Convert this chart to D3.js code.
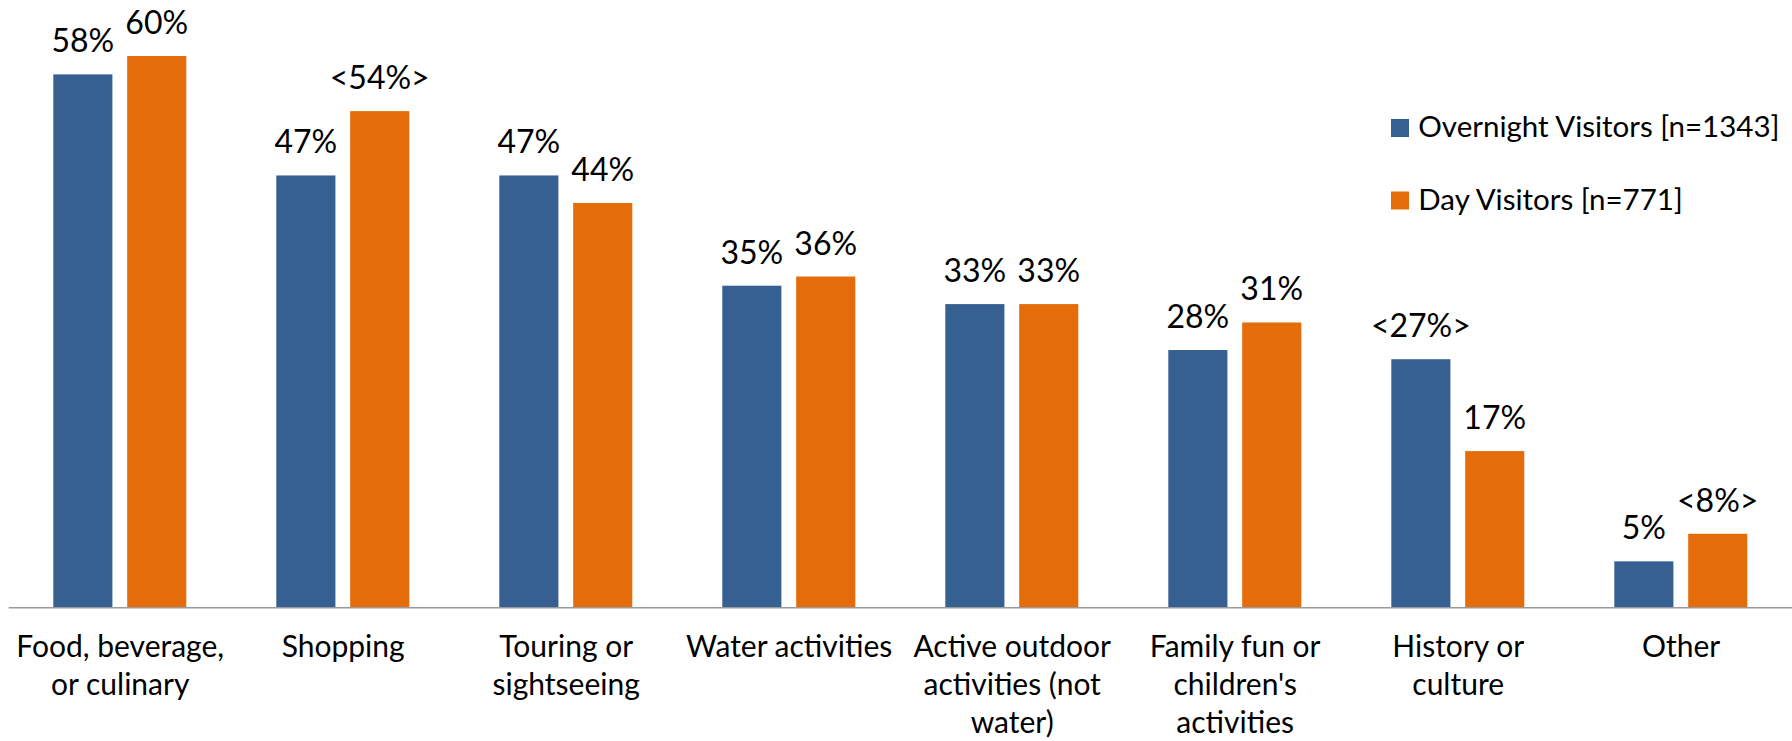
<!DOCTYPE html>
<html>
<head>
<meta charset="utf-8">
<script src="https://cdn.jsdelivr.net/npm/d3@7"></script>
<style>
  html, body { margin: 0; padding: 0; background: #ffffff; }
  svg { display: block; }
  text { font-family: Lato, "Open Sans", sans-serif; fill: #000; }
</style>
</head>
<body>
<svg id="chart" width="1792" height="741"></svg>
<script>
const categories = [
  "Food, beverage,\nor culinary",
  "Shopping",
  "Touring or\nsightseeing",
  "Water activities",
  "Active outdoor\nactivities (not\nwater)",
  "Family fun or\nchildren's\nactivities",
  "History or\nculture",
  "Other"
];
const seriesNames = ["Overnight Visitors [n=1343]", "Day Visitors [n=771]"];
const overnightValues = [0.58, 0.47, 0.47, 0.35, 0.33, 0.28, 0.27, 0.05];
const dayValues       = [0.60, 0.54, 0.44, 0.36, 0.33, 0.31, 0.17, 0.08];
const overnightLabels = ["58%", "47%", "47%", "35%", "33%", "28%", "<27%>", "5%"];
const dayLabels       = ["60%", "<54%>", "44%", "36%", "33%", "31%", "17%", "<8%>"];
const colors = ["#376092", "#E46C0A"];

const svg = d3.select("#chart");
const baseY = 607.3;

const x0 = d3.scaleBand().domain(categories).range([8.7, 1792.7]).padding(0);
const x1 = d3.scaleBand().domain([0, 1]).range([44.6, 177.6]).paddingInner(0.2).paddingOuter(0);
const y = d3.scaleLinear().domain([0, 0.6]).range([baseY, 56]);

const data = categories.map((c, i) => ({
  cat: c,
  vals: [
    { s: 0, v: overnightValues[i], label: overnightLabels[i] },
    { s: 1, v: dayValues[i], label: dayLabels[i] }
  ]
}));

const groups = svg.selectAll("g.grp").data(data).enter().append("g")
  .attr("class", "grp")
  .attr("transform", d => `translate(${x0(d.cat)},0)`);

groups.selectAll("rect").data(d => d.vals).enter().append("rect")
  .attr("x", d => x1(d.s))
  .attr("width", x1.bandwidth())
  .attr("y", d => y(d.v))
  .attr("height", d => baseY - y(d.v))
  .attr("fill", d => colors[d.s]);

groups.selectAll("text.lbl").data(d => d.vals).enter().append("text")
  .attr("class", "lbl")
  .attr("x", d => x1(d.s) + x1.bandwidth() / 2)
  .attr("y", d => y(d.v) - 22)
  .attr("text-anchor", "middle")
  .style("font-size", "32px")
  .text(d => d.label);

// x axis baseline
svg.append("line")
  .attr("x1", 8.7).attr("x2", 1792)
  .attr("y1", baseY + 0.5).attr("y2", baseY + 0.5)
  .attr("stroke", "#9a9a9a").attr("stroke-width", 1.5);

// category labels
const catG = svg.append("g");
categories.forEach(c => {
  const t = catG.append("text")
    .attr("text-anchor", "middle")
    .attr("x", x0(c) + x0.bandwidth() / 2)
    .attr("y", 657)
    .style("font-size", "30px");
  c.split("\n").forEach((line, j) => {
    t.append("tspan")
      .attr("x", x0(c) + x0.bandwidth() / 2)
      .attr("dy", j === 0 ? 0 : 37.8)
      .text(line);
  });
});

// legend
const legend = svg.append("g");
seriesNames.forEach((name, i) => {
  const yy = 137 + i * 72.5;
  legend.append("rect")
    .attr("x", 1391).attr("y", yy - 18)
    .attr("width", 18).attr("height", 18)
    .attr("fill", colors[i]);
  legend.append("text")
    .attr("x", 1418.3).attr("y", yy)
    .style("font-size", "29.5px")
    .text(name);
});
</script>
</body>
</html>
